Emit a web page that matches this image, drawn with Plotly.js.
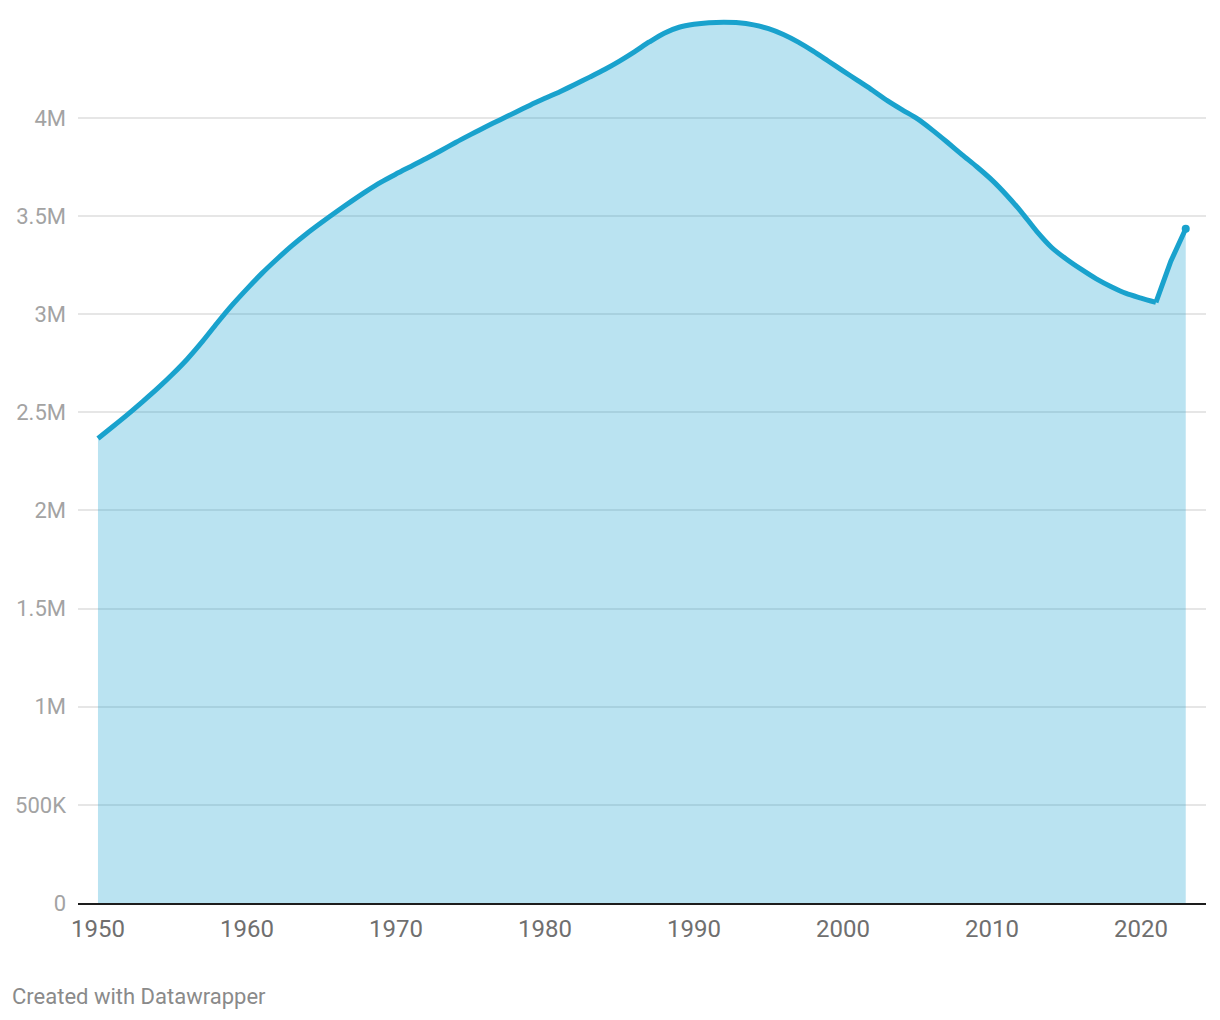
<!DOCTYPE html>
<html>
<head>
<meta charset="utf-8">
<script src="https://cdn.plot.ly/plotly-3.0.1.min.js"></script>
<style>
  html, body { margin: 0; padding: 0; background: #ffffff; }
  #chart { width: 1220px; height: 1020px; }
</style>
</head>
<body>
<div id="chart"></div>
<script>
const years = [
  1950,1951,1952,1953,1954,1955,1956,1957,1958,1959,
  1960,1961,1962,1963,1964,1965,1966,1967,1968,1969,
  1970,1971,1972,1973,1974,1975,1976,1977,1978,1979,
  1980,1981,1982,1983,1984,1985,1986,1987,1988,1989,
  1990,1991,1992,1993,1994,1995,1996,1997,1998,1999,
  2000,2001,2002,2003,2004,2005,2006,2007,2008,2009,
  2010,2011,2012,2013,2014,2015,2016,2017,2018,2019,
  2020,2021,2022,2023
];
const population = [
  2367000,2428000,2490000,2555000,2622000,2694000,2772000,2860000,2955000,3046000,
  3129000,3208000,3280000,3348000,3410000,3467000,3522000,3575000,3626000,3673000,
  3714000,3753000,3792000,3833000,3875000,3915000,3954000,3991000,4028000,4065000,
  4100000,4134000,4170000,4208000,4247000,4290000,4337000,4387000,4432000,4462000,
  4477000,4485000,4487000,4485000,4474000,4455000,4425000,4386000,4340000,4290000,
  4240000,4190000,4140000,4087000,4040000,3995000,3938000,3876000,3812000,3750000,
  3683000,3605000,3518000,3422000,3340000,3280000,3228000,3180000,3140000,3106000,
  3082000,3060000,3270000,3435000
];
const xTickVals = [1950,1960,1970,1980,1990,2000,2010,2020];
const xTickText = ["1950","1960","1970","1980","1990","2000","2010","2020"];
const yTickVals = [0,500000,1000000,1500000,2000000,2500000,3000000,3500000,4000000];
const yTickText = ["0","500K","1M","1.5M","2M","2.5M","3M","3.5M","4M"];

// smooth part runs up to the 2021 low, the recovery is drawn straight
const kink = years.indexOf(2021);
const smoothX = years.slice(0, kink + 1), smoothY = population.slice(0, kink + 1);
const tailX = years.slice(kink), tailY = population.slice(kink);
const lastX = [years[years.length-1]];
const lastY = [population[population.length-1]];

const lineColor = '#19a2cd';
const traces = [
  {
    x: years, y: population, type: 'scatter', mode: 'lines',
    fill: 'tozeroy', fillcolor: 'rgba(27,163,207,0.3)',
    line: { color: 'rgba(0,0,0,0)', width: 0 },
    hoverinfo: 'skip'
  },
  {
    x: smoothX, y: smoothY, type: 'scatter', mode: 'lines',
    line: { color: lineColor, width: 5, shape: 'spline', smoothing: 0.8 },
    hoverinfo: 'skip'
  },
  {
    x: tailX, y: tailY, type: 'scatter', mode: 'lines',
    line: { color: lineColor, width: 5, shape: 'linear' },
    hoverinfo: 'skip'
  },
  {
    x: lastX, y: lastY, type: 'scatter', mode: 'markers',
    marker: { color: lineColor, size: 8 },
    hoverinfo: 'skip'
  }
];

const layout = {
  width: 1220, height: 1020,
  margin: { l: 78, r: 14, t: 10, b: 117 },
  paper_bgcolor: '#ffffff', plot_bgcolor: '#ffffff',
  showlegend: false,
  font: { family: 'Roboto, sans-serif' },
  xaxis: {
    range: [1948.66, 2024.36],
    tickvals: xTickVals, ticktext: xTickText,
    showgrid: false, zeroline: false,
    showline: true, linecolor: '#1d1d1d', linewidth: 2,
    ticks: '', ticklabelstandoff: 3,
    tickfont: { size: 24, color: '#6f6f6f', family: 'Roboto, sans-serif' },
    fixedrange: true
  },
  yaxis: {
    range: [0, 4550000],
    tickvals: yTickVals, ticktext: yTickText,
    showgrid: true, gridcolor: '#e6e6e6', gridwidth: 2,
    zeroline: false, showline: false,
    ticks: '', ticklabelstandoff: 11,
    tickfont: { size: 22, color: '#a3a3a3', family: 'Roboto, sans-serif' },
    fixedrange: true
  },
  annotations: [
    {
      text: 'Created with Datawrapper',
      xref: 'paper', yref: 'paper',
      x: (10 - 78) / 1128, y: -(996 - 903) / 893,
      xanchor: 'left', yanchor: 'middle',
      showarrow: false,
      font: { size: 22, color: '#8a8a8a', family: 'Roboto, sans-serif' }
    }
  ]
};

Plotly.newPlot('chart', traces, layout, { displayModeBar: false, staticPlot: true });
</script>
</body>
</html>
